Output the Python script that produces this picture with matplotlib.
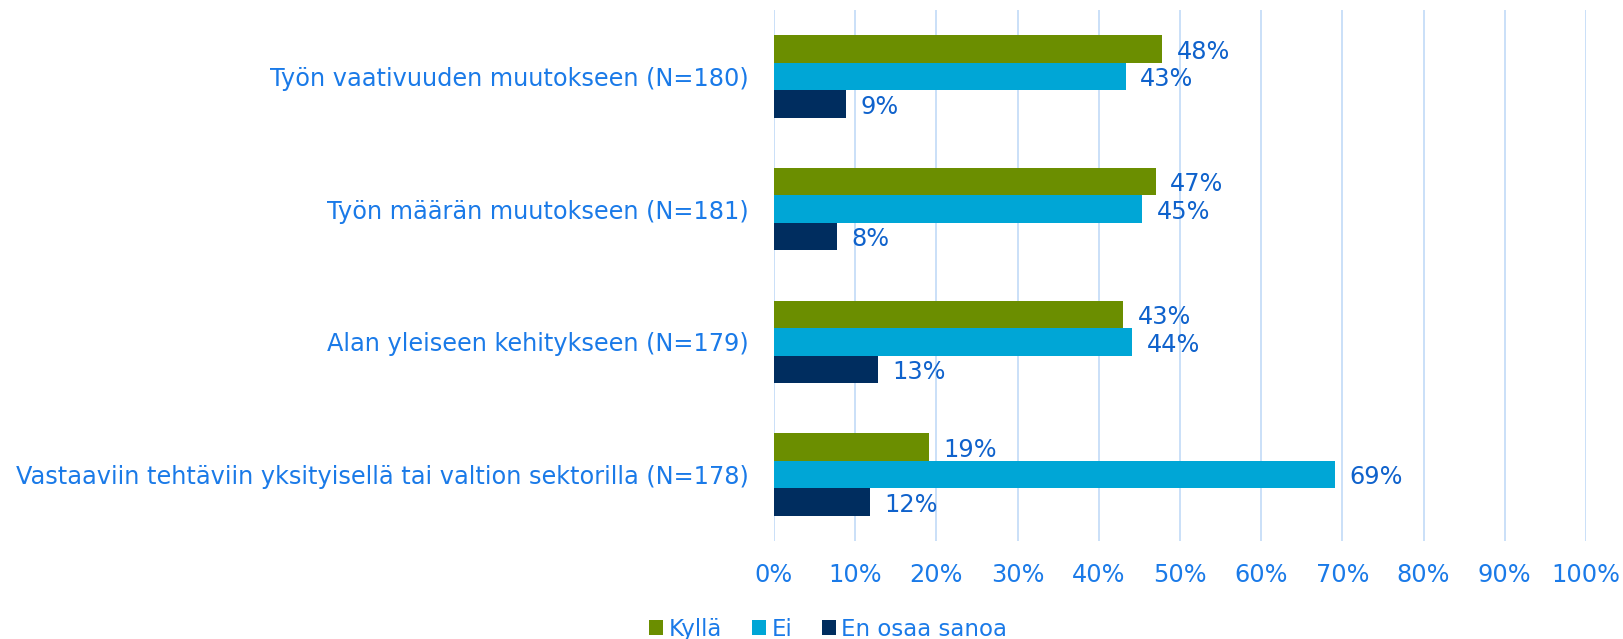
import matplotlib.pyplot as plt
import numpy as np

plt.rcParams['font.family'] = ['DejaVu Sans']

categories = [
    "Työn vaativuuden muutokseen (N=180)",
    "Työn määrän muutokseen (N=181)",
    "Alan yleiseen kehitykseen (N=179)",
    "Vastaaviin tehtäviin yksityisellä tai valtion sektorilla (N=178)",
]
series_names = ["Kyllä", "Ei", "En osaa sanoa"]
kylla = [47.8, 47.0, 43.0, 19.1]
ei = [43.3, 45.3, 44.1, 69.1]
en_osaa = [8.9, 7.7, 12.8, 11.8]
colors = ["#6b8e00", "#00a6d6", "#002d5f"]
xticks = [0, 10, 20, 30, 40, 50, 60, 70, 80, 90, 100]

label_col = "#1a7ae8"
value_col = "#0f62cc"
fs = 17.3

fig = plt.figure(figsize=(16.24, 6.39), dpi=100)
ax = fig.add_axes([774 / 1624, 1 - 541 / 639, 812 / 1624, 531 / 639])

y = np.arange(len(categories))
h = 0.207
offsets = [-h, 0, h]
handles = []
for vals, off, col, name in zip([kylla, ei, en_osaa], offsets, colors, series_names):
    bars = ax.barh(y + off, vals, height=h, color=col, label=name, zorder=3)
    handles.append(bars)
    for v, yy in zip(vals, y + off):
        ax.text(v + 1.8, yy + 0.02, f"{round(v)}%", va="center", ha="left",
                fontsize=fs, color=value_col)

ax.set_xlim(0, 100)
ax.set_ylim(len(categories) - 0.5, -0.5)
ax.set_yticks(y)
ax.set_yticklabels(categories, fontsize=fs, color=label_col)
ax.set_xticks(xticks)
ax.set_xticklabels([f"{t}%" for t in xticks], fontsize=fs, color=label_col)
ax.tick_params(axis="both", length=0)
ax.tick_params(axis="x", pad=16)
ax.tick_params(axis="y", pad=18)
ax.grid(axis="x", color="#c6ddf8", linewidth=1.3, zorder=0)
for s in ax.spines.values():
    s.set_visible(False)

leg = fig.legend(handles=handles, labels=series_names, loc="lower center",
                 bbox_to_anchor=(0.51, -0.035), ncol=3, frameon=False,
                 fontsize=16.5, handlelength=0.6, handleheight=0.6,
                 handletextpad=0.25, columnspacing=1.3)
for t in leg.get_texts():
    t.set_color(label_col)

fig.savefig("out.png", dpi=100)
